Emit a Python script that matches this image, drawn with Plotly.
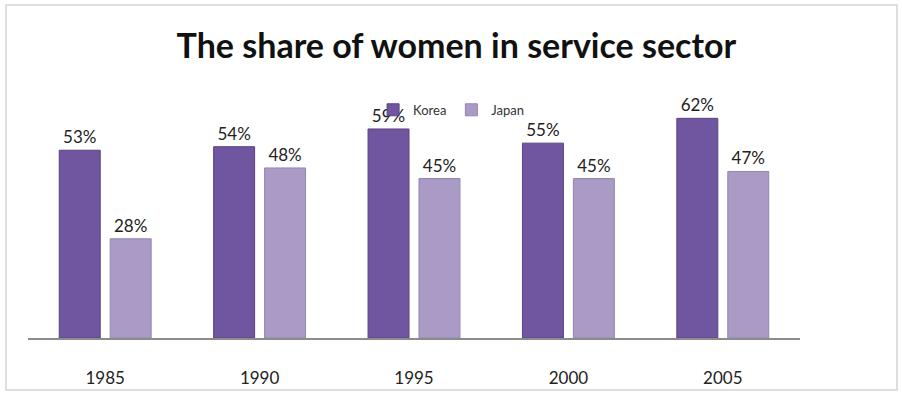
import plotly.graph_objects as go

# Share of women employed in the service sector (%)
years = ["1985", "1990", "1995", "2000", "2005"]
korea = [53, 54, 59, 55, 62]
japan = [28, 48, 45, 45, 47]

FONT = "Lato, 'Open Sans', sans-serif"

fig = go.Figure()
fig.add_trace(go.Bar(
    name="Korea", x=years, y=korea,
    marker=dict(color="#7056a0", line=dict(color="#5a4282", width=1)),
    text=[f"{v}%" for v in korea], textposition="outside",
    textfont=dict(size=17, color="#222222", family=FONT),
    cliponaxis=False,
))
fig.add_trace(go.Bar(
    name="Japan", x=years, y=japan,
    marker=dict(color="#aa9bc6", line=dict(color="#9484b2", width=1)),
    text=[f"{v}%" for v in japan], textposition="outside",
    textfont=dict(size=17, color="#222222", family=FONT),
    cliponaxis=False,
))

fig.update_layout(
    width=902, height=402,
    margin=dict(l=28, r=102, t=90, b=64),
    paper_bgcolor="white", plot_bgcolor="white",
    bargap=0.34, bargroupgap=0.196,
    title=dict(
        text="<b>The share of women in service sector</b>",
        x=0.506, xanchor="center", y=0.885, yanchor="middle",
        font=dict(size=34, color="#111111", family=FONT),
    ),
    legend=dict(
        orientation="h", x=0.447, xanchor="left", y=0.92, yanchor="middle",
        font=dict(size=13, color="#333333", family=FONT),
        bgcolor="rgba(0,0,0,0)",
        itemwidth=30,
    ),
    showlegend=True,
    font=dict(family=FONT),
)
fig.update_xaxes(
    showline=True, linecolor="#8c8c8c", linewidth=2,
    ticks="", ticklabelstandoff=24,
    tickfont=dict(size=17, color="#222222", family=FONT),
    showgrid=False,
)
fig.update_yaxes(
    range=[0, 70], visible=False, showgrid=False,
)

# light frame around the whole chart
fig.add_shape(
    type="rect", xref="paper", yref="paper",
    x0=-0.0285, x1=1.1256, y0=-0.2097, y1=1.3427,
    line=dict(color="#d4d4d4", width=1.5), fillcolor="rgba(0,0,0,0)",
    layer="below",
)

fig.write_html("out.html")
